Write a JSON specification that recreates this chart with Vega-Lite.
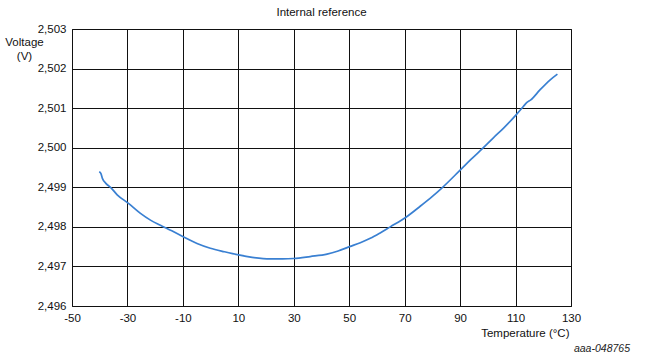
{
  "$schema": "https://vega.github.io/schema/vega-lite/v6.json",
  "autosize": "none",
  "width": 499,
  "height": 277,
  "padding": {"left": 72, "top": 29, "right": 77, "bottom": 48},
  "background": "white",
  "config": {
    "font": "Liberation Sans",
    "view": {"stroke": "#111", "strokeWidth": 1},
    "axis": {
      "grid": true, "gridColor": "#111", "gridOpacity": 1, "gridWidth": 1,
      "ticks": false, "domain": false, "labelOverlap": false, "labelBound": false, "labelFlush": false,
      "labelFont": "Liberation Sans", "labelFontSize": 11.5, "labelColor": "#111",
      "titleFont": "Liberation Sans", "titleFontSize": 11.5, "titleFontWeight": "normal", "titleColor": "#111"
    }
  },
  "title": {
    "text": "Internal reference",
    "font": "Liberation Sans", "fontSize": 11.5, "fontWeight": "normal", "color": "#111",
    "anchor": "middle", "offset": 5
  },
  "layer": [
    {
      "data": {
        "values": [
          {"t": -40.2, "v": 2.49939},
          {"t": -39.6, "v": 2.49935},
          {"t": -39.0, "v": 2.49922},
          {"t": -37.8, "v": 2.49910},
          {"t": -36.1, "v": 2.49900},
          {"t": -33.7, "v": 2.49881},
          {"t": -29.75, "v": 2.49860},
          {"t": -25.3, "v": 2.49834},
          {"t": -21.7, "v": 2.49817},
          {"t": -18.1, "v": 2.49804},
          {"t": -14, "v": 2.49790},
          {"t": -9.9, "v": 2.49775},
          {"t": -4.9, "v": 2.49758},
          {"t": -0.1, "v": 2.49746},
          {"t": 5, "v": 2.49737},
          {"t": 10.1, "v": 2.49729},
          {"t": 15, "v": 2.49723},
          {"t": 21.5, "v": 2.49719},
          {"t": 26, "v": 2.49719},
          {"t": 29.9, "v": 2.49720},
          {"t": 35.9, "v": 2.49725},
          {"t": 42, "v": 2.49731},
          {"t": 46, "v": 2.49739},
          {"t": 50.1, "v": 2.49750},
          {"t": 54, "v": 2.49760},
          {"t": 57.6, "v": 2.49771},
          {"t": 61, "v": 2.49784},
          {"t": 64.8, "v": 2.49800},
          {"t": 70.2, "v": 2.49823},
          {"t": 75.6, "v": 2.49852},
          {"t": 80, "v": 2.49877},
          {"t": 83.4, "v": 2.49898},
          {"t": 90.1, "v": 2.49944},
          {"t": 94, "v": 2.49971},
          {"t": 98.4, "v": 2.50000},
          {"t": 102, "v": 2.50025},
          {"t": 105.6, "v": 2.50049},
          {"t": 110.2, "v": 2.50083},
          {"t": 112.8, "v": 2.50104},
          {"t": 114, "v": 2.50114},
          {"t": 115.5, "v": 2.50121},
          {"t": 118.8, "v": 2.50146},
          {"t": 122.4, "v": 2.50171},
          {"t": 125.1, "v": 2.50186}
        ]
      },
      "mark": {"type": "line", "color": "#3a80d2", "strokeWidth": 1.7, "interpolate": "monotone"},
      "encoding": {
        "x": {
          "field": "t", "type": "quantitative",
          "scale": {"domain": [-50, 130], "nice": false, "zero": false},
          "axis": {
            "values": [-50, -30, -10, 10, 30, 50, 70, 90, 110, 130],
            "tickCount": 20,
            "labelExpr": "'' + datum.value",
            "labelPadding": 6,
            "title": "Temperature (°C)",
            "titleAnchor": "end", "titleAlign": "right", "titleBaseline": "alphabetic",
            "titleX": 497, "titleY": 30
          }
        },
        "y": {
          "field": "v", "type": "quantitative",
          "scale": {"domain": [2.496, 2.503], "nice": false, "zero": false},
          "axis": {
            "values": [2.496, 2.497, 2.498, 2.499, 2.5, 2.501, 2.502, 2.503],
            "tickCount": 20,
            "labelExpr": "replace(format(datum.value, '.3f'), '.', ',')",
            "labelPadding": 6,
            "title": ["Voltage", "(V)"],
            "titleAngle": 0, "titleAlign": "center", "titleBaseline": "top",
            "titleX": -48, "titleY": 7, "titleLineHeight": 14
          }
        }
      }
    },
    {
      "data": {"values": [{"t": 130, "v": 2.496, "label": "aaa-048765"}]},
      "mark": {"type": "text", "font": "Liberation Sans", "fontSize": 10.5, "fontStyle": "italic", "color": "#222", "align": "right", "baseline": "alphabetic", "dx": 59, "dy": 46},
      "encoding": {
        "x": {"field": "t", "type": "quantitative"},
        "y": {"field": "v", "type": "quantitative"},
        "text": {"field": "label"}
      }
    }
  ]
}
